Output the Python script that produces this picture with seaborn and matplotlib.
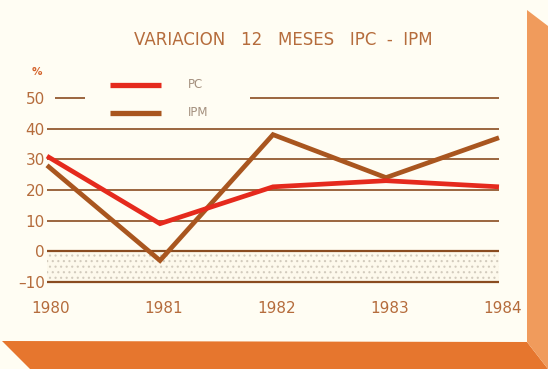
import matplotlib
matplotlib.use("Agg")
import matplotlib.pyplot as plt
import matplotlib.transforms as mtransforms
from matplotlib.patches import Polygon
from matplotlib.lines import Line2D
import numpy as np
import pandas as pd
import seaborn as sns

# ---- data -------------------------------------------------------------
years = [1980, 1981, 1982, 1983, 1984]
ipc = [31, 9, 21, 23, 21]
ipm = [28, -3, 38, 24, 37]
series_names = ["IPC", "IPM"]
legend_labels = ["PC", "IPM"]
y_ticks = [50, 40, 30, 20, 10, 0, -10]
title = "VARIACION   12   MESES   IPC  -  IPM"

df = pd.DataFrame({
    "year": years * 2,
    "value": ipc + ipm,
    "serie": [series_names[0]] * len(years) + [series_names[1]] * len(years),
})

# ---- style ------------------------------------------------------------
sns.set_theme(style="white")
plt.rcParams["font.family"] = ["DejaVu Sans"]
plt.rcParams["hatch.linewidth"] = 0.8

RED = "#e52a1d"
BROWN = "#a9561f"
GRID = "#8a4c20"
TEXT = "#b56c3c"
CARD = "#fffdf3"
FACE_BOTTOM = "#e6762e"
FACE_RIGHT = "#f09b5c"

W, H = 548, 369
fig = plt.figure(figsize=(W / 100, H / 100), dpi=100, facecolor=CARD)


def fx(px):
    return px / W


def fy(py):
    return 1 - py / H


# extruded card faces
fig.patches.append(Polygon(
    [(fx(2), fy(341)), (fx(527), fy(342)), (fx(548), fy(369)), (fx(30), fy(369))],
    closed=True, transform=fig.transFigure, facecolor=FACE_BOTTOM, edgecolor="none"))
fig.patches.append(Polygon(
    [(fx(527), fy(10)), (fx(548), fy(26)), (fx(548), fy(369)), (fx(527), fy(342))],
    closed=True, transform=fig.transFigure, facecolor=FACE_RIGHT, edgecolor="none"))

# ---- plot area ----------------------------------------------------------
y_lo, y_hi = -10, 52
bottom_px, per_unit = 282, 3.07
top_px = bottom_px - (y_hi - y_lo) * per_unit
ax = fig.add_axes([fx(47), fy(bottom_px), fx(499) - fx(47), (bottom_px - top_px) / H])
ax.set_facecolor("none")
ax.set_xlim(years[0], years[-1])
ax.set_ylim(y_lo, y_hi)

# stippled band below zero
ax.axhspan(-10, 0, facecolor="#fdf9ec", edgecolor="#d2cbbd", hatch="...", lw=0, zorder=0)

# horizontal rules
for v in y_ticks:
    if v == 50:
        ax.hlines(v, 1980.07, 1980.34, color=GRID, lw=1.2, zorder=1)
        ax.hlines(v, 1981.80, years[-1], color=GRID, lw=1.2, zorder=1)
    elif v in (0, -10):
        ax.hlines(v, years[0], years[-1], color=GRID, lw=1.6, zorder=1, clip_on=False)
    else:
        ax.hlines(v, years[0], years[-1], color=GRID, lw=1.2, zorder=1)

sns.lineplot(data=df, x="year", y="value", hue="serie",
             palette={series_names[0]: RED, series_names[1]: BROWN},
             hue_order=[series_names[1], series_names[0]],
             linewidth=3.4, legend=False, ax=ax, clip_on=False, zorder=3)
for ln in ax.get_lines():
    ln.set_solid_capstyle("butt")
    ln.set_solid_joinstyle("miter")

for s in ax.spines.values():
    s.set_visible(False)

ax.set_xlabel("")
ax.set_ylabel("")
ax.set_xticks(years)
ax.set_xticklabels([str(y) for y in years])
ax.set_yticks(y_ticks)
ax.set_yticklabels([f"{t}" if t >= 0 else f"\u2013{abs(t)}" for t in y_ticks])
ax.tick_params(axis="x", direction="out", length=5, width=1.3, color=GRID,
               pad=9, labelsize=11, labelcolor=TEXT)
ax.tick_params(axis="y", length=0, pad=1.5, labelsize=11, labelcolor=TEXT)
offset = mtransforms.ScaledTranslation(4 / 100, 0, fig.dpi_scale_trans)
for lab in ax.get_xticklabels():
    lab.set_transform(lab.get_transform() + offset)
ax.grid(False)

# percent sign
fig.text(fx(37), fy(72), "%", color="#d4622a", fontsize=7.5, fontweight="bold",
         ha="center", va="center")

# title
fig.text(fx(283), fy(40), title, color=TEXT, fontsize=12, ha="center", va="center")

# legend
for lab, col, py in zip(legend_labels, [RED, BROWN], [85, 113]):
    fig.add_artist(Line2D([fx(110), fx(161)], [fy(py), fy(py)], color=col, lw=3.8,
                          solid_capstyle="butt", transform=fig.transFigure))
    fig.text(fx(188), fy(py), lab, color="#a4907e", fontsize=8.5, ha="left", va="center")

fig.savefig("out.png", dpi=100, facecolor=CARD)
